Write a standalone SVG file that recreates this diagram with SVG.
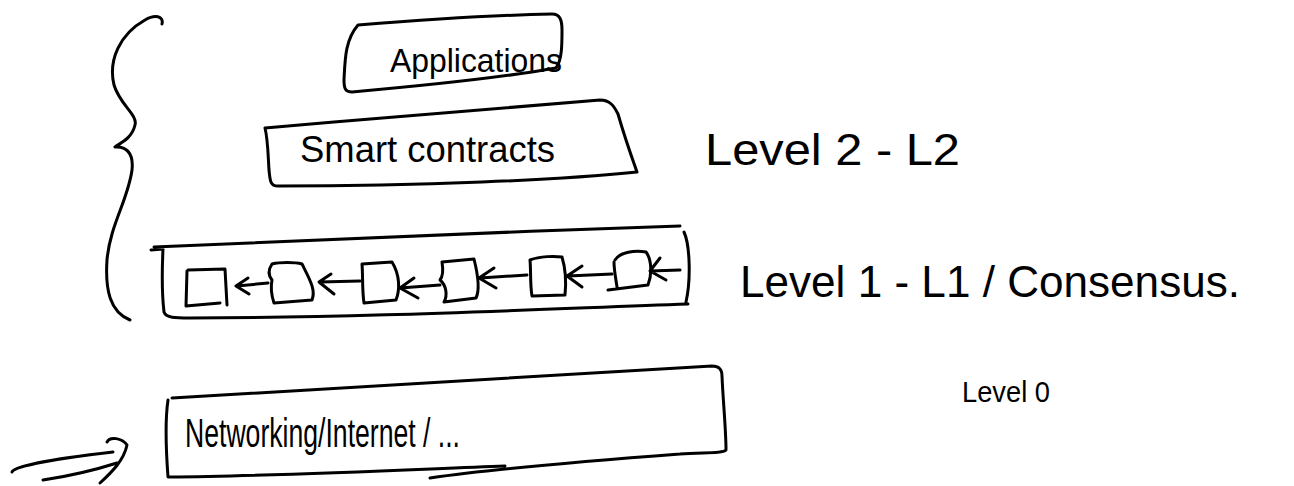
<svg xmlns="http://www.w3.org/2000/svg" width="1294" height="486" viewBox="0 0 1294 486">
<style>
.s{fill:none;stroke:#000;stroke-width:3;stroke-linecap:round;stroke-linejoin:round}
.t{font-family:"Liberation Sans",Arial,sans-serif;fill:#000}
</style>
<rect width="1294" height="486" fill="#fff"/>
<g id="brace"><path class="s" d="M162,24 C164,16 155,14 145,20 C120,34 108,60 114,85 C120,105 138,115 135,125 C132,138 122,142 115,147 C125,146 134,152 132,170 C128,200 110,225 107,260 C105,290 110,312 130,320"/></g>
<g id="applications">
<path class="s" d="M358,25 C420,20 500,15 552,14 C560,14 562,20 562,30 C562,45 562,60 556,68 C500,78 420,86 352,92 C345,92 344,88 344,80 C345,60 345,40 358,25"/>
<text class="t" x="390" y="72" font-size="33" textLength="172" lengthAdjust="spacingAndGlyphs">Applications</text>
</g>
<g id="smart-contracts">
<path class="s" d="M265,128 C380,118 500,108 600,100 C610,100 614,106 618,114 C624,135 632,158 637,172 C560,180 420,186 278,186 C270,186 270,180 269,170 C268,155 268,140 265,128"/>
<text class="t" x="300" y="162" font-size="36" textLength="255" lengthAdjust="spacingAndGlyphs">Smart contracts</text>
</g>
<text class="t" x="705" y="165" font-size="44" textLength="255" lengthAdjust="spacingAndGlyphs">Level 2 - L2</text>
<g id="chain">
<path class="s" d="M151,250 L163,249 C162,270 162,295 164,312 C166,318 175,318 190,318 C350,318 520,310 688,304 M154,247 C300,240 500,232 680,226 M684,232 C690,245 691,280 686,302"/>
<path class="s" d="M188,270 L225,269 L227,305 M187,271 L186,306 L220,303"/>
<path class="s" d="M272,264 C268,270 268,275 272,280 C270,290 272,297 274,303 L312,300 C316,290 310,280 302,264 C295,262 280,262 272,264"/>
<path class="s" d="M362,264 L392,262 C400,275 400,290 396,300 L364,303 C362,290 363,275 362,264"/>
<path class="s" d="M442,262 L474,259 C478,275 480,290 476,298 L444,302 C448,295 446,285 440,280 C444,275 443,268 442,262"/>
<path class="s" d="M530,260 C540,256 555,256 562,257 C566,270 566,285 565,295 L532,296 C530,285 531,270 530,260"/>
<path class="s" d="M615,260 C620,252 635,250 646,252 C652,260 652,275 648,285 L608,290 M614,262 C614,270 616,280 617,287"/>
</g>
<g id="connectors">
<path class="s" d="M268,283 L237,286 M248,278 L236,286 L249,294"/>
<path class="s" d="M360,281 L320,282 M331,274 L319,282 L334,294"/>
<path class="s" d="M440,285 L400,288 M414,278 L400,288 L418,298"/>
<path class="s" d="M527,275 L480,278 M494,268 L479,278 L496,288"/>
<path class="s" d="M612,274 L568,276 M582,266 L567,276 L582,287"/>
<path class="s" d="M680,270 L650,271 M660,258 L650,271 L666,280"/>
<path class="s" d="M12,472 C14,466 60,458 113,452 M43,480 C70,476 95,470 117,463 M107,442 C110,436 122,438 127,445 C124,460 112,472 100,483"/>
</g>
<text class="t" x="740" y="297" font-size="44" textLength="500" lengthAdjust="spacingAndGlyphs">Level 1 - L1 / Consensus.</text>
<g id="networking">
<path class="s" d="M172,398 C300,392 500,378 712,366 C718,366 722,368 722,376 C723,400 726,430 726,450 C722,454 700,452 680,454 C600,460 500,468 430,478 M505,466 C400,470 280,476 168,477 C166,450 165,420 168,400"/>
<text class="t" x="185" y="447" font-size="40" textLength="275" lengthAdjust="spacingAndGlyphs">Networking/Internet / ...</text>
</g>
<text class="t" x="962" y="402" font-size="30" textLength="88" lengthAdjust="spacingAndGlyphs">Level 0</text>
</svg>
